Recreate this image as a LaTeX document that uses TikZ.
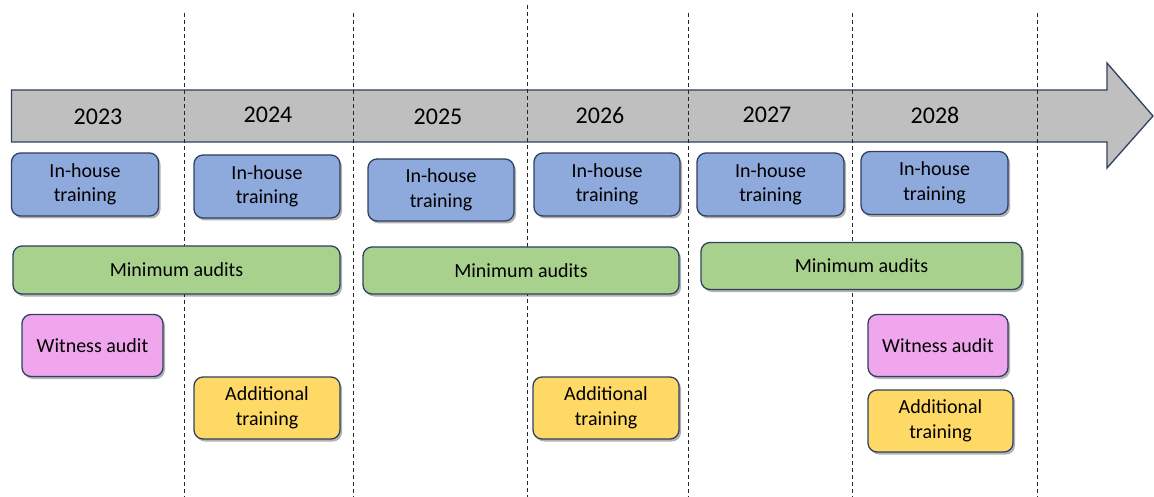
\documentclass[tikz,border=0pt]{standalone}
\usepackage{fontspec}
\setmainfont{Carlito}
\usetikzlibrary{shadows}
\definecolor{edgec}{HTML}{2F4060}
\definecolor{arrowc}{HTML}{BFBFBF}
\definecolor{bluec}{HTML}{8EA9DB}
\definecolor{greenc}{HTML}{A9D18E}
\definecolor{pinkc}{HTML}{F0A6EC}
\definecolor{yellowc}{HTML}{FFD966}
\tikzset{
  box/.style={draw=edgec, line width=1.3pt, rounded corners=9pt, align=center,
    font=\fontsize{20}{24.5}\selectfont, inner sep=0pt,
    drop shadow={shadow xshift=2pt, shadow yshift=-2.5pt, opacity=0.3, fill=black}},
  ihbox/.style={box, fill=bluec},
  mabox/.style={box, fill=greenc},
  wabox/.style={box, fill=pinkc},
  atbox/.style={box, fill=yellowc},
  yearlbl/.style={font=\fontsize{24}{28}\selectfont, inner sep=0pt},
  divider/.style={draw=black!85, line width=0.8pt, dash pattern=on 4pt off 3pt}
}
\begin{document}
\begin{tikzpicture}[x=1pt,y=-1pt]
\useasboundingbox (0,0) rectangle (1154,497);
\clip (0,0) rectangle (1154,497);
% timeline arrow
\draw[fill=arrowc, draw=edgec, line width=1.3pt, line join=miter]
  (11.5,90) -- (1107,90) -- (1107,63) -- (1153,116) -- (1107,168) -- (1107,142) -- (11.5,142) -- cycle;
% dividers
\foreach \xx/\yy in {184/13, 353/13, 527/5, 688/13, 852/13, 1037/13}
  \draw[divider] (\xx,\yy) -- (\xx,497);
% years
\node[yearlbl] (y2023) at (98,117) {2023};
\node[yearlbl] (y2024) at (268,115) {2024};
\node[yearlbl] (y2025) at (438,117) {2025};
\node[yearlbl] (y2026) at (600,115) {2026};
\node[yearlbl] (y2027) at (767,115) {2027};
\node[yearlbl] (y2028) at (935,115) {2028};
% in-house training
\node[ihbox, minimum width=147pt, minimum height=63pt] (ih1) at (85,184.5) {In-house\\training};
\node[ihbox, minimum width=146pt, minimum height=63pt] (ih2) at (267,186.5) {In-house\\training};
\node[ihbox, minimum width=146pt, minimum height=62pt] (ih3) at (441,190) {In-house\\training};
\node[ihbox, minimum width=146pt, minimum height=63pt] (ih4) at (607,184.5) {In-house\\training};
\node[ihbox, minimum width=147pt, minimum height=63pt] (ih5) at (770.5,184.5) {In-house\\training};
\node[ihbox, minimum width=147pt, minimum height=63pt] (ih6) at (934.5,183) {In-house\\training};
% minimum audits
\node[mabox, minimum width=327pt, minimum height=48pt] (ma1) at (176.5,270) {Minimum audits};
\node[mabox, minimum width=316pt, minimum height=47pt] (ma2) at (521,270.5) {Minimum audits};
\node[mabox, minimum width=321pt, minimum height=47pt] (ma3) at (861.5,266) {Minimum audits};
% witness audits
\node[wabox, minimum width=141pt, minimum height=62pt] (wa1) at (92.5,345.5) {Witness audit};
\node[wabox, minimum width=140pt, minimum height=62pt] (wa2) at (938,345.5) {Witness audit};
% additional training
\node[atbox, minimum width=146pt, minimum height=62pt] (at1) at (267,408) {Additional\\training};
\node[atbox, minimum width=146pt, minimum height=62pt] (at2) at (606,408) {Additional\\training};
\node[atbox, minimum width=145pt, minimum height=62pt] (at3) at (940.5,421) {Additional\\training};
\end{tikzpicture}
\end{document}
